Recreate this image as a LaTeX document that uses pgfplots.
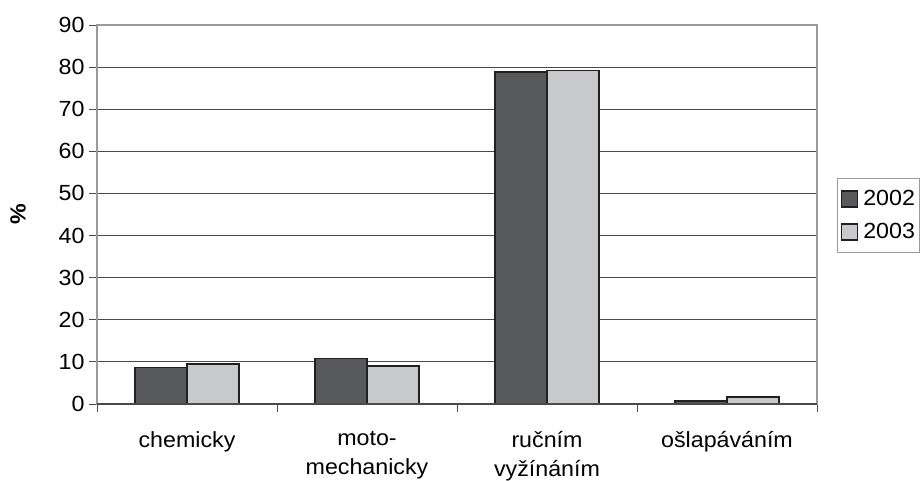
\documentclass[border=0pt]{standalone}
\usepackage{pgfplots}
\pgfplotsset{compat=1.18}
\usepackage{fontspec}
\setmainfont{Liberation Sans}[FakeStretch=1.06]
\definecolor{darkbar}{HTML}{58595B}
\definecolor{lightbar}{HTML}{C8C9CB}
\definecolor{edge}{HTML}{231F20}
\definecolor{frame}{HTML}{9A9A9A}
\definecolor{gridc}{HTML}{4A4A4A}
\newcommand{\chartfont}{\fontsize{22}{28}\selectfont}
\begin{document}
\begin{tikzpicture}[font=\chartfont]
\path[use as bounding box] (-97bp,-77bp) rectangle (823bp,404bp);
\begin{axis}[
  at={(0,0)}, anchor=south west,
  scale only axis,
  width=720bp, height=379bp,
  ybar=0pt, bar width=52bp,
  xmin=-0.5, xmax=3.5,
  ymin=0, ymax=90,
  ytick={0,10,...,90},
  xtick={0,1,2,3},
  xticklabels={chemicky,{moto-\\mechanicky},{ručním\\vyžínáním},ošlapáváním},
  minor xtick={-0.5,0.5,1.5,2.5,3.5},
  major x tick style={draw=none},
  xtick pos=bottom, ytick pos=left,
  minor tick length=8bp,
  major tick length=8bp,
  tick align=outside,
  tick style={color=gridc, line width=0.8bp},
  ymajorgrids,
  grid style={color=gridc, line width=0.8bp},
  axis line style={color=frame, line width=1.6bp},
  /pgf/number format/assume math mode=true,
  ticklabel style={font=\chartfont},
  xticklabel style={align=center, font=\fontsize{22}{29}\selectfont, yshift=-16bp},
  yticklabel style={xshift=-1bp},
  ylabel={\textbf{\%}},
  ylabel style={font=\fontsize{22}{26}\selectfont, yshift=26bp},
  legend style={at={(axis description cs:1.028,0.596)}, anchor=north west,
    draw=frame, line width=0.9bp, font=\chartfont,
    inner xsep=3bp, inner ysep=10bp, row sep=12bp,
    cells={anchor=west}},
  legend image code/.code={\draw[#1, line width=1.6bp] (0bp,-8bp) rectangle (16bp,8bp); \path (19bp,0bp);},
  every axis plot/.append style={draw=edge, line width=1.7bp},
]
\addplot[fill=darkbar] coordinates {(0,8.7) (1,10.8) (2,78.9) (3,0.7)};
\addplot[fill=lightbar] coordinates {(0,9.5) (1,9.0) (2,79.2) (3,1.7)};
\legend{2002,2003}
\draw[gridc, line width=1.2bp] (rel axis cs:0,0) -- (rel axis cs:1,0);
\end{axis}
\end{tikzpicture}
\end{document}
